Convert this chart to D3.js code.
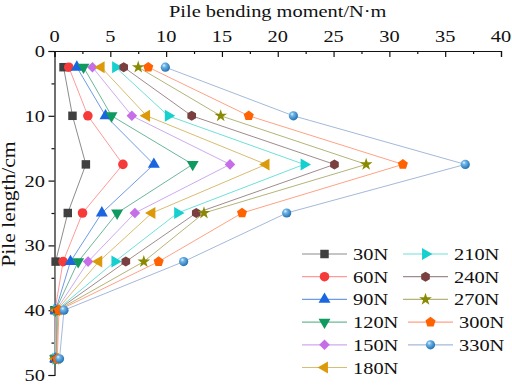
<!DOCTYPE html>
<html>
<head>
<meta charset="utf-8">
<script src="https://cdn.jsdelivr.net/npm/d3@7"></script>
<style>
  body { margin: 0; background: #fff; }
  text { font-family: "Liberation Serif", "Times New Roman", serif; fill: #111; }
</style>
</head>
<body>
<div id="chart"></div>
<script>
// DATA
var depths = [2.5, 10, 17.5, 25, 32.5, 40, 47.5]; // pile length, cm
var loads = ["30N", "60N", "90N", "120N", "150N", "180N", "210N", "240N", "270N", "300N", "330N"];
var m30  = [0.81, 1.61, 2.81, 1.19, 0.10, 0.00, 0.00];
var m60  = [1.28, 2.99, 6.13, 2.51, 0.77, 0.05, 0.02];
var m90  = [2.00, 4.57, 8.90, 4.24, 1.43, 0.10, 0.05];
var m120 = [2.60, 5.11, 12.38, 5.61, 2.12, 0.10, 0.05];
var m150 = [3.40, 6.93, 15.72, 7.20, 3.01, 0.15, 0.08];
var m180 = [4.18, 8.25, 18.95, 8.73, 3.97, 0.20, 0.10];
var m210 = [5.47, 10.19, 22.36, 11.03, 5.41, 0.20, 0.12];
var m240 = [6.20, 12.29, 25.08, 12.70, 6.39, 0.25, 0.15];
var m270 = [7.50, 14.89, 27.92, 13.39, 8.00, 0.30, 0.20];
var m300 = [8.40, 17.40, 31.21, 16.80, 9.33, 0.40, 0.25];
var m330 = [9.93, 21.40, 36.80, 20.80, 11.57, 0.85, 0.45];
var moments = [m30, m60, m90, m120, m150, m180, m210, m240, m270, m300, m330];
var xTicks = [0, 5, 10, 15, 20, 25, 30, 35, 40];
var yTicks = [0, 10, 20, 30, 40, 50];

// styles per series
var markColor = ["#404040", "#f63a3a", "#1a66e0", "#0f9a5f", "#c56ee8", "#dc9a0a", "#16cfcf", "#7a4040", "#8a8a00", "#ff6200", "#3f92d2"];
var lineColor = ["#8c8c8c", "#ff9a9a", "#6f9be6", "#6cb898", "#cfaaf0", "#d8bd72", "#6ee0da", "#a08c8c", "#b4b47a", "#ffa286", "#a4b9da"];
var shapes = ["square", "circle", "up", "down", "diamond", "left", "right", "hexagon", "star", "pentagon", "sphere"];

var width = 512, height = 385;
var SX = 1.2; // font is drawn a bit wide in the original

var svg = d3.select("#chart").append("svg")
  .attr("width", width)
  .attr("height", height);

var defs = svg.append("defs");
var grad = defs.append("radialGradient").attr("id", "ball")
  .attr("cx", "40%").attr("cy", "38%").attr("r", "65%")
  .attr("fx", "35%").attr("fy", "30%");
grad.append("stop").attr("offset", "0%").attr("stop-color", "#e8f6ff");
grad.append("stop").attr("offset", "30%").attr("stop-color", "#6fb6e8");
grad.append("stop").attr("offset", "100%").attr("stop-color", "#1f6db0");

var x = d3.scaleLinear().domain([0, 40]).range([54.5, 501]);
var y = d3.scaleLinear().domain([0, 50]).range([51, 375]);

function polyPath(n, r, rot) {
  var p = [];
  for (var i = 0; i < n; i++) {
    var a = rot + i * 2 * Math.PI / n;
    p.push([r * Math.cos(a), r * Math.sin(a)]);
  }
  return "M" + p.map(function(d){ return d[0].toFixed(2) + "," + d[1].toFixed(2); }).join("L") + "Z";
}

//draw a marker of a given shape centred at (cx,cy)
function marker(g, shape, color, cx, cy) {
  var t = "translate(" + cx + "," + cy + ")";
  var tri = d3.symbol().type(d3.symbolTriangle).size(62)();
  var el;
  switch (shape) {
    case "square":  el = g.append("path").attr("d", d3.symbol().type(d3.symbolSquare).size(72)()); break;
    case "circle":  el = g.append("path").attr("d", d3.symbol().type(d3.symbolCircle).size(72)()); break;
    case "up":      el = g.append("path").attr("d", tri); break;
    case "down":    el = g.append("path").attr("d", tri); t += " rotate(180)"; break;
    case "left":    el = g.append("path").attr("d", tri); t += " rotate(-90)"; break;
    case "right":   el = g.append("path").attr("d", tri); t += " rotate(90)"; break;
    case "diamond": el = g.append("path").attr("d", d3.symbol().type(d3.symbolSquare).size(56)()); t += " rotate(45)"; break;
    case "hexagon": el = g.append("path").attr("d", polyPath(6, 5, -Math.PI / 2)); break;
    case "pentagon": el = g.append("path").attr("d", polyPath(5, 5.3, -Math.PI / 2)); break;
    case "star":    el = g.append("path").attr("d", d3.symbol().type(d3.symbolStar).size(50)()); break;
    case "sphere":  el = g.append("circle").attr("r", 4.6); break;
  }
  el.attr("transform", t).attr("fill", shape == "sphere" ? "url(#ball)" : color);
}

function label(g, tx, ty, txt, size, anchor, rot) {
  return g.append("text")
    .attr("transform", "translate(" + tx + "," + ty + ")" + (rot ? " rotate(" + rot + ")" : "") + " scale(" + SX + ",1)")
    .attr("text-anchor", anchor)
    .style("font-size", size + "px")
    .text(txt);
}

//---AXES
var topAxis = svg.append("g").attr("transform", "translate(0," + y(0) + ")")
  .call(d3.axisTop(x).tickValues(xTicks).tickSize(-6).tickFormat(""));
svg.append("g").attr("transform", "translate(0," + y(0) + ")")
  .call(d3.axisTop(x).tickValues(d3.range(2.5, 40, 5)).tickSize(-3).tickFormat(""))
  .select(".domain").remove();

var leftAxis = svg.append("g").attr("transform", "translate(" + x(0) + ",0)")
  .call(d3.axisLeft(y).tickValues(yTicks).tickSize(6).tickFormat(""));
svg.append("g").attr("transform", "translate(" + x(0) + ",0)")
  .call(d3.axisLeft(y).tickValues(d3.range(5, 50, 10)).tickSize(3).tickFormat(""))
  .select(".domain").remove();

svg.selectAll(".domain").attr("stroke", "#111").attr("stroke-width", 1.2);
svg.selectAll(".tick line").attr("stroke", "#111").attr("stroke-width", 1.2);

var labels = svg.append("g");
xTicks.forEach(function(v){ label(labels, x(v), 42, v, 17, "middle"); });
yTicks.forEach(function(v){ label(labels, 45, y(v) + 6, v, 17, "end"); });
label(labels, (x(0) + x(40)) / 2, 17, "Pile bending moment/N\u00b7m", 17, "middle");
label(labels, 15, 204, "Pile length/cm", 18, "middle", -90);

//---SERIES
var line = d3.line()
  .x(function(d){ return x(d[0]); })
  .y(function(d){ return y(d[1]); });

var plot = svg.append("g");
moments.forEach(function(vals, i){
  var pts = vals.map(function(v, j){ return [v, depths[j]]; });
  plot.append("path").datum(pts)
    .attr("d", line)
    .attr("fill", "none")
    .attr("stroke", lineColor[i])
    .attr("stroke-width", 1);
});
// markers drawn after all lines, first series ends up underneath
moments.forEach(function(vals, i){
  vals.forEach(function(v, j){ marker(plot, shapes[i], markColor[i], x(v), y(depths[j])); });
});

//---LEGEND
var legend = svg.append("g");
loads.forEach(function(name, i){
  var col = i < 6 ? 0 : 1;
  var row = col ? i - 6 : i;
  var lx = col ? 403 : 302;
  if (i >= 9) lx += 5;
  var ly = 254 + row * 22.7;
  legend.append("line")
    .attr("x1", lx).attr("x2", lx + 45)
    .attr("y1", ly).attr("y2", ly)
    .attr("stroke", lineColor[i]).attr("stroke-width", 1.2);
  marker(legend, shapes[i], markColor[i], lx + 22.5, ly);
  label(legend, lx + 51, ly + 6, name, 17, "start");
});
</script>
</body>
</html>
